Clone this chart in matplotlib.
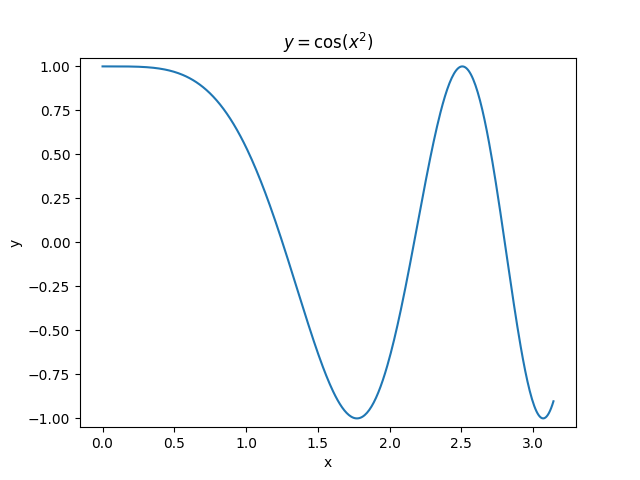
import numpy as np
import matplotlib.pyplot as plt

# the chart is a plot of the function named in its title
x = np.linspace(0, np.pi, 400)
y = np.cos(x ** 2)

fig, ax = plt.subplots(figsize=(6.4, 4.8), dpi=100)
ax.plot(x, y)
ax.set_ylim(-1.05, 1.05)
ax.set_title(r"$y = \cos(x^2)$")
ax.set_xlabel("x")
ax.set_ylabel("y")
fig.savefig("out.png")
